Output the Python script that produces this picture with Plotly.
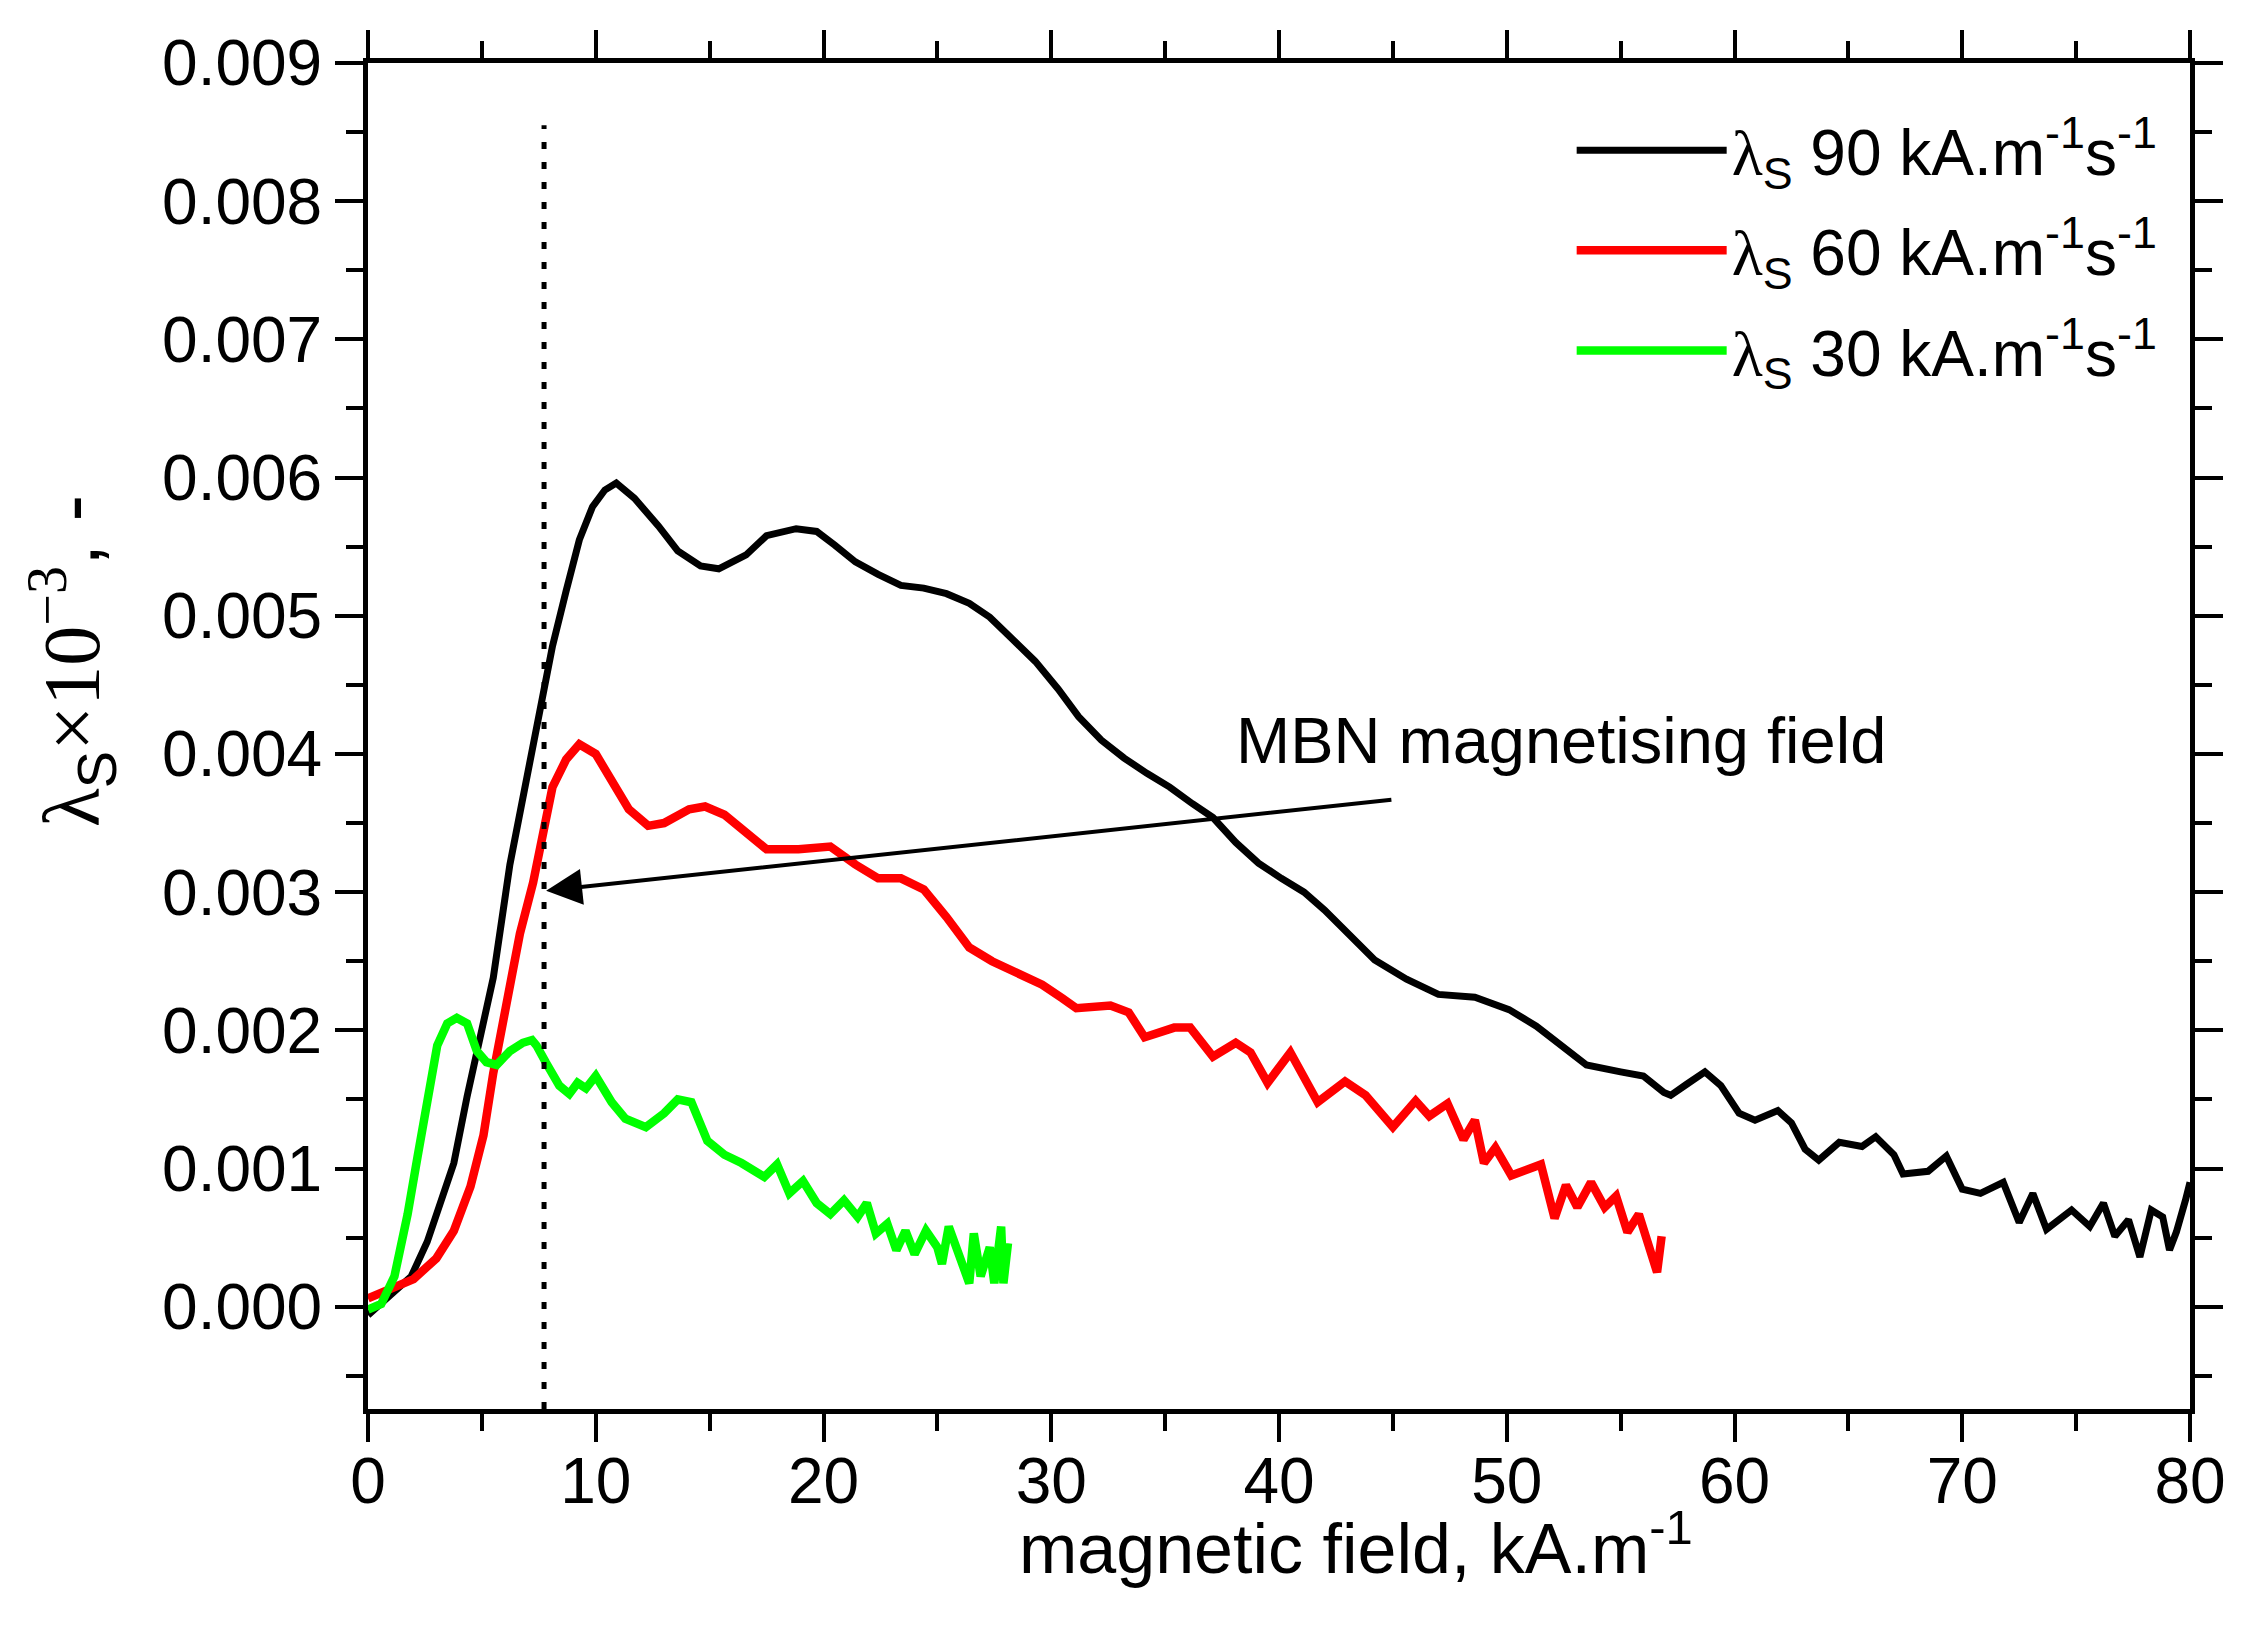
import plotly.graph_objects as go

# ---------------- data ----------------
x_90 = [0, 0.6, 1.16, 1.9, 2.6, 3.3, 3.77, 4.35, 4.93, 5.5, 6.23, 6.96, 7.68, 8.1, 8.7, 9.28,
        9.86, 10.4, 10.9, 11.7, 12.75, 13.6, 14.6, 15.4, 16.6, 17.5, 18.8, 19.7, 20.5, 21.4,
        22.4, 23.4, 24.4, 25.4, 26.4, 27.3, 28.3, 29.3, 30.3, 31.2, 32.2, 33.2, 34.2, 35.2,
        36.2, 37.1, 38.1, 39.1, 40.1, 41.1, 42.0, 43.0, 44.2, 45.6, 47.0, 48.6, 50.1, 51.3,
        52.5, 53.5, 55.0, 56.0, 56.9, 57.2, 57.9, 58.7, 59.4, 60.2, 60.9, 61.9, 62.5, 63.1,
        63.7, 64.6, 65.6, 66.2, 67.0, 67.4, 68.5, 69.3, 70.0, 70.8, 71.8, 72.5, 73.1, 73.7,
        74.8, 75.6, 76.2, 76.7, 77.3, 77.8, 78.3, 78.8, 79.1, 79.4, 79.8, 80.0]
y_90 = [-0.06e-3, 0.03e-3, 0.10e-3, 0.22e-3, 0.47e-3, 0.83e-3, 1.04e-3, 1.52e-3, 1.97e-3, 2.38e-3,
        3.20e-3, 3.84e-3, 4.45e-3, 4.78e-3, 5.18e-3, 5.55e-3, 5.79e-3, 5.91e-3, 5.96e-3, 5.85e-3,
        5.65e-3, 5.47e-3, 5.36e-3, 5.34e-3, 5.44e-3, 5.58e-3, 5.63e-3, 5.61e-3, 5.51e-3, 5.39e-3,
        5.30e-3, 5.22e-3, 5.20e-3, 5.16e-3, 5.09e-3, 4.99e-3, 4.83e-3, 4.67e-3, 4.47e-3, 4.27e-3,
        4.10e-3, 3.97e-3, 3.86e-3, 3.76e-3, 3.64e-3, 3.54e-3, 3.36e-3, 3.21e-3, 3.10e-3, 3.00e-3,
        2.87e-3, 2.70e-3, 2.51e-3, 2.37e-3, 2.26e-3, 2.24e-3, 2.15e-3, 2.03e-3, 1.88e-3, 1.75e-3,
        1.70e-3, 1.67e-3, 1.55e-3, 1.53e-3, 1.61e-3, 1.70e-3, 1.60e-3, 1.40e-3, 1.35e-3, 1.42e-3,
        1.33e-3, 1.14e-3, 1.06e-3, 1.19e-3, 1.16e-3, 1.23e-3, 1.10e-3, 0.96e-3, 0.98e-3, 1.09e-3,
        0.85e-3, 0.82e-3, 0.90e-3, 0.61e-3, 0.82e-3, 0.56e-3, 0.70e-3, 0.58e-3, 0.75e-3, 0.51e-3,
        0.63e-3, 0.36e-3, 0.70e-3, 0.65e-3, 0.41e-3, 0.54e-3, 0.77e-3, 0.90e-3]

x_60 = [0, 1.16, 2.0, 3.0, 3.77, 4.5, 5.07, 5.5, 6.1, 6.67, 7.25, 7.68, 8.1, 8.7, 9.28, 10.0,
        10.7, 11.45, 12.3, 13.0, 14.1, 14.8, 15.65, 16.6, 17.5, 18.9, 20.3, 21.4, 22.4, 23.4,
        24.4, 25.4, 26.4, 27.4, 28.5, 29.6, 30.5, 31.1, 32.6, 33.4, 34.1, 35.4, 36.1, 37.1,
        38.1, 38.75, 39.5, 40.5, 41.7, 42.9, 43.8, 45.0, 46.0, 46.6, 47.4, 48.1, 48.6, 49.0,
        49.5, 50.2, 51.5, 52.1, 52.6, 53.1, 53.7, 54.3, 54.8, 55.3, 55.8, 56.3, 56.6, 56.8]
y_60 = [0.06e-3, 0.14e-3, 0.20e-3, 0.35e-3, 0.55e-3, 0.87e-3, 1.24e-3, 1.69e-3, 2.22e-3, 2.70e-3,
        3.07e-3, 3.43e-3, 3.76e-3, 3.96e-3, 4.07e-3, 4.00e-3, 3.80e-3, 3.60e-3, 3.48e-3, 3.50e-3,
        3.60e-3, 3.62e-3, 3.56e-3, 3.44e-3, 3.31e-3, 3.31e-3, 3.33e-3, 3.20e-3, 3.10e-3, 3.10e-3,
        3.02e-3, 2.82e-3, 2.60e-3, 2.50e-3, 2.42e-3, 2.33e-3, 2.23e-3, 2.16e-3, 2.18e-3, 2.13e-3,
        1.95e-3, 2.02e-3, 2.02e-3, 1.81e-3, 1.91e-3, 1.84e-3, 1.62e-3, 1.84e-3, 1.48e-3, 1.63e-3,
        1.53e-3, 1.30e-3, 1.49e-3, 1.38e-3, 1.47e-3, 1.21e-3, 1.35e-3, 1.04e-3, 1.15e-3, 0.95e-3,
        1.03e-3, 0.64e-3, 0.88e-3, 0.72e-3, 0.90e-3, 0.72e-3, 0.80e-3, 0.54e-3, 0.67e-3, 0.40e-3,
        0.25e-3, 0.51e-3]

x_30 = [0, 0.58, 1.16, 1.74, 2.17, 2.6, 3.04, 3.48, 3.9, 4.35, 4.78, 5.2, 5.65, 6.23, 6.8, 7.2,
        7.4, 7.8, 8.4, 8.84, 9.2, 9.57, 10.0, 10.7, 11.3, 12.2, 13.0, 13.6, 14.2, 14.9, 15.65,
        16.4, 17.4, 17.96, 18.5, 19.1, 19.7, 20.3, 20.9, 21.5, 21.9, 22.3, 22.8, 23.2, 23.6,
        24.0, 24.5, 25.0, 25.2, 25.5, 25.9, 26.4, 26.6, 26.9, 27.3, 27.5, 27.8, 27.9, 28.1]
y_30 = [-0.02e-3, 0.02e-3, 0.22e-3, 0.67e-3, 1.08e-3, 1.52e-3, 1.89e-3, 2.05e-3, 2.09e-3, 2.05e-3,
        1.85e-3, 1.77e-3, 1.75e-3, 1.85e-3, 1.91e-3, 1.93e-3, 1.89e-3, 1.77e-3, 1.60e-3, 1.54e-3,
        1.62e-3, 1.58e-3, 1.67e-3, 1.48e-3, 1.36e-3, 1.30e-3, 1.40e-3, 1.50e-3, 1.48e-3, 1.20e-3,
        1.10e-3, 1.04e-3, 0.94e-3, 1.03e-3, 0.82e-3, 0.91e-3, 0.75e-3, 0.67e-3, 0.77e-3, 0.65e-3,
        0.75e-3, 0.53e-3, 0.60e-3, 0.41e-3, 0.55e-3, 0.38e-3, 0.55e-3, 0.43e-3, 0.31e-3, 0.58e-3,
        0.41e-3, 0.17e-3, 0.53e-3, 0.22e-3, 0.43e-3, 0.17e-3, 0.58e-3, 0.17e-3, 0.46e-3]

series_names = ["90", "60", "30"]
mbn_field = 7.73           # dotted marker line position, kA/m
mbn_line_top = 0.00855
arrow_head = (7.82, 0.00301)
arrow_tail = (45.0, 0.00367)
label_pos = (52.4, 0.0041)

x_tick_vals = [0, 10, 20, 30, 40, 50, 60, 70, 80]
y_tick_vals = [0.000, 0.001, 0.002, 0.003, 0.004, 0.005, 0.006, 0.007, 0.008, 0.009]

# ---------------- figure ----------------
SANS = "Liberation Sans, Arial, sans-serif"
SERIF = "Liberation Serif, Times New Roman, serif"

def legend_label(rate):
    return (f"<span style='font-family:{SERIF}'>λ</span><sub>S</sub> {rate} kA.m<sup>-1</sup>s<sup>-1</sup>")

fig = go.Figure()
for xs, ys, name, color, w in [(x_90, y_90, series_names[0], "#000000", 7),
                               (x_60, y_60, series_names[1], "#ff0000", 8.5),
                               (x_30, y_30, series_names[2], "#00ff00", 8.5)]:
    fig.add_trace(go.Scatter(x=xs, y=ys, mode="lines", name=legend_label(name),
                             legendgroup=name, line=dict(color=color, width=w)))

fig.add_shape(type="line", x0=mbn_field, x1=mbn_field, y0=-0.00074, y1=mbn_line_top,
              xref="x", yref="y", line=dict(color="black", width=5, dash="7px,13px"))

fig.add_annotation(x=arrow_head[0], y=arrow_head[1], ax=arrow_tail[0], ay=arrow_tail[1],
                   xref="x", yref="y", axref="x", ayref="y", text="", showarrow=True,
                   arrowhead=2, arrowsize=1.8, arrowwidth=4, arrowcolor="black")
fig.add_annotation(x=label_pos[0], y=label_pos[1], xref="x", yref="y",
                   text="MBN magnetising field", showarrow=False,
                   font=dict(family=SANS, size=65, color="black"))

# axis titles (placed as annotations to match the original off-centre positions)
fig.add_annotation(x=0.542, y=-0.1, xref="paper", yref="paper", xanchor="center", yanchor="middle",
                   text="magnetic field, kA.m<sup>-1</sup>", showarrow=False,
                   font=dict(family=SANS, size=70, color="black"))
fig.add_annotation(x=-0.1625, y=0.5557, xref="paper", yref="paper", xanchor="center", yanchor="middle",
                   textangle=-90, showarrow=False,
                   text=(f"<span style='font-family:{SERIF}'>λ</span><sub>S</sub>"
                         f"<span style='font-family:{SERIF}'>×10<sup>−3</sup></span>, -"),
                   font=dict(family=SANS, size=80, color="black"))

axis_common = dict(showline=True, linewidth=5, linecolor="black", mirror="ticks",
                   ticks="outside", ticklen=28, tickwidth=4, tickcolor="black",
                   showgrid=False, zeroline=False,
                   tickfont=dict(family=SANS, size=64, color="black"))

fig.update_xaxes(range=[0, 80], tickvals=x_tick_vals, ticklabelstandoff=-16,
                 minor=dict(dtick=5, ticklen=17, tickwidth=4, tickcolor="black", ticks="outside"),
                 **axis_common)
fig.update_yaxes(range=[-0.00074, 0.009], tickvals=y_tick_vals, tickformat=".3f",
                 minor=dict(dtick=0.0005, tick0=0, ticklen=17, tickwidth=4, tickcolor="black", ticks="outside"),
                 **axis_common)

fig.update_layout(width=2252, height=1630, paper_bgcolor="white", plot_bgcolor="white",
                  margin=dict(l=368, r=62, t=63, b=221),
                  font=dict(family=SANS, color="black"),
                  showlegend=True,
                  legend=dict(x=0.985, y=0.971, xanchor="right", yanchor="top",
                              bgcolor="rgba(0,0,0,0)", itemwidth=150,
                              font=dict(family=SANS, size=64, color="black"),
                              tracegroupgap=14))

fig.write_html("out.html")
